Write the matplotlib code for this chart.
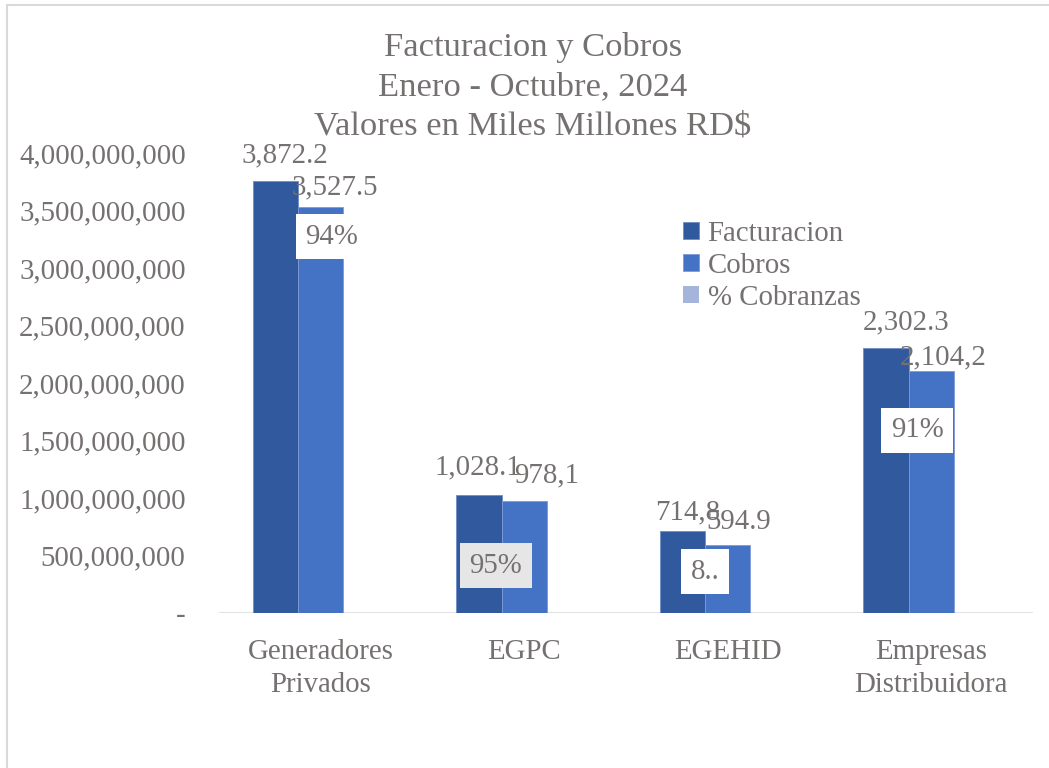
import numpy as np
import matplotlib.pyplot as plt
from matplotlib.patches import Rectangle
from matplotlib.ticker import FuncFormatter

plt.rcParams['font.family'] = ['Liberation Serif', 'DejaVu Serif']

categorias = ['Generadores\nPrivados', 'EGPC', 'EGEHID', 'Empresas\nDistribuidora']
facturacion = [3757.0e6, 1028.1e6, 714.8e6, 2302.3e6]
cobros = [3527.5e6, 978.1e6, 594.9e6, 2104.2e6]
pct_cobranzas = [0.94, 0.95, 0.83, 0.91]
etiq_fact = ['3,872.2', '1,028.1', '714,8', '2,302.3']
etiq_cobros = ['3,527.5', '978,1', '594.9', '2,104,2']
etiq_pct = ['94%', '95%', '8..', '91%']

gris = '#767171'
fs = 20.8
W, H = 1049, 768

fig = plt.figure(figsize=(W / 100, H / 100), dpi=100)
ax = fig.add_axes([219 / W, 1 - 613 / H, (1033 - 219) / W, 460 / H])

x = np.arange(len(categorias))
w = 0.222
b1 = ax.bar(x - w, facturacion, w, color='#30599E', edgecolor='#6f8cc4', linewidth=0.6, label='Facturacion')
b2 = ax.bar(x, cobros, w, color='#4472C4', edgecolor='#7f9ad6', linewidth=0.6, label='Cobros')
b3 = ax.bar(x + w, pct_cobranzas, w, color='#A5B4DA', label='% Cobranzas')

ax.set_xlim(-0.5, 3.5)
ax.set_ylim(0, 4e9)
ax.set_yticks(np.arange(0, 4.01e9, 5e8))
ax.yaxis.set_major_formatter(FuncFormatter(lambda v, p: '-' if v == 0 else f'{v:,.0f}'))
ax.set_xticks(x)
ax.set_xticklabels(categorias)
ax.tick_params(axis='y', length=0, pad=24, labelsize=fs, labelcolor=gris)
ax.tick_params(axis='x', length=0, pad=19, labelsize=fs, labelcolor=gris)
for lbl in ax.get_xticklabels():
    lbl.set_linespacing(1.35)
for s in ax.spines.values():
    s.set_visible(False)
ax.axhline(0, color='#D9D9D9', lw=1.8, zorder=0.5)

# etiquetas de valores (desplazamientos en pixeles)
off_fact = [(9, 26), (-1, 27), (5, 18), (20, 26)]
off_cob = [(14, 20), (22, 25), (11, 23), (12, 14)]
for rect, lab, (dx, dy) in zip(b1, etiq_fact, off_fact):
    ax.annotate(lab, (rect.get_x() + rect.get_width() / 2, rect.get_height()),
                xytext=(dx, dy), textcoords='offset pixels', ha='center', va='center',
                fontsize=fs, color=gris)
for rect, lab, (dx, dy) in zip(b2, etiq_cobros, off_cob):
    ax.annotate(lab, (rect.get_x() + rect.get_width() / 2, rect.get_height()),
                xytext=(dx, dy), textcoords='offset pixels', ha='center', va='center',
                fontsize=fs, color=gris)

# etiquetas de % cobranzas
pos_pct = [(0.055, 3.27e9), (-0.14, 0.41e9), (-0.11, 0.357e9), (-0.07, 1.59e9)]
fondo_pct = ['white', '#E7E6E6', 'white', 'white']
for i, (lab, (dx, yy), fc) in enumerate(zip(etiq_pct, pos_pct, fondo_pct)):
    ax.text(x[i] + dx, yy, lab, ha='center', va='center', fontsize=fs, color=gris, zorder=5,
            bbox=dict(boxstyle='square,pad=0.33', fc=fc, ec='none'))

fig.text(533 / W, 1 - 87 / H, 'Facturacion y Cobros\nEnero - Octubre, 2024\nValores en Miles Millones RD$',
         ha='center', va='center', fontsize=24.8, color=gris, linespacing=1.38)

fig.legend(handles=[b1, b2, b3], loc='upper left', bbox_to_anchor=(683 / W, 1 - 221 / H),
           frameon=False, fontsize=fs, labelcolor=gris, labelspacing=0.2,
           handlelength=0.55, handleheight=0.55, handletextpad=0.3, borderpad=0, borderaxespad=0)

fig.add_artist(Rectangle((7 / W, -0.5), 2, 1.5 - 4.5 / H, fill=False, ec='#D9D9D9', lw=1.5,
                         transform=fig.transFigure))

fig.savefig('out.png', dpi=100)
